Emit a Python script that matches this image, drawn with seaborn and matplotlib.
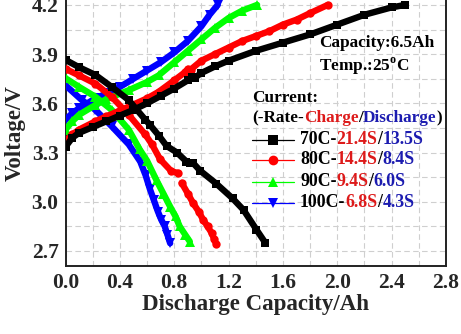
import numpy as np
import pandas as pd
import seaborn as sns
import matplotlib
matplotlib.use("Agg")
import matplotlib.pyplot as plt
from matplotlib.lines import Line2D
from matplotlib.ticker import MultipleLocator
from matplotlib.offsetbox import TextArea, HPacker, DrawingArea, AnchoredOffsetbox

# ---- data ----
# charge curves (voltage rising)
c70_x = [0, 0.05, 0.1, 0.2, 0.3, 0.4, 0.5, 0.6, 0.7, 0.8, 0.9, 0.93, 0.95, 1.0, 1.1, 1.2, 1.4, 1.6, 1.8, 2.0, 2.2, 2.4, 2.5]
c70_v = [3.335, 3.39, 3.42, 3.455, 3.49, 3.525, 3.56, 3.60, 3.645, 3.69, 3.74, 3.76, 3.755, 3.785, 3.825, 3.86, 3.92, 3.97, 4.02, 4.08, 4.14, 4.185, 4.20]
c80_x = [0, 0.05, 0.1, 0.22, 0.3, 0.465, 0.6, 0.685, 0.8, 0.88, 0.9, 0.92, 1.0, 1.1, 1.2, 1.3, 1.4, 1.5, 1.6, 1.7, 1.8, 1.93]
c80_v = [3.37, 3.41, 3.44, 3.49, 3.52, 3.58, 3.63, 3.67, 3.74, 3.79, 3.81, 3.805, 3.86, 3.90, 3.94, 3.98, 4.01, 4.04, 4.08, 4.11, 4.15, 4.20]
c90_x = [0, 0.05, 0.1, 0.22, 0.3, 0.465, 0.6, 0.685, 0.8, 0.9, 1.0, 1.1, 1.2, 1.3, 1.41]
c90_v = [3.44, 3.49, 3.53, 3.59, 3.625, 3.68, 3.73, 3.77, 3.85, 3.92, 3.99, 4.06, 4.12, 4.165, 4.20]
c100_x = [0, 0.05, 0.1, 0.22, 0.3, 0.4, 0.5, 0.6, 0.7, 0.8, 0.9, 1.0, 1.06, 1.12]
c100_v = [3.50, 3.54, 3.57, 3.63, 3.66, 3.70, 3.75, 3.80, 3.85, 3.91, 3.98, 4.07, 4.14, 4.20]

# discharge curves (voltage falling)
d70_x = [0, 0.1, 0.22, 0.34, 0.465, 0.587, 0.62, 0.69, 0.744, 0.82, 0.89, 0.915, 0.94, 0.99, 1.11, 1.23, 1.31, 1.405, 1.47]
d70_v = [3.865, 3.82, 3.773, 3.70, 3.62, 3.50, 3.47, 3.40, 3.34, 3.30, 3.245, 3.235, 3.235, 3.19, 3.11, 3.02, 2.95, 2.83, 2.75]
d80a_x = [0, 0.1, 0.22, 0.34, 0.465, 0.587, 0.636, 0.695, 0.78, 0.83]
d80a_v = [3.81, 3.77, 3.72, 3.64, 3.53, 3.41, 3.35, 3.26, 3.185, 3.175]
d80b_x = [0.855, 0.9, 0.94, 0.98, 1.013, 1.045, 1.075, 1.095, 1.11]
d80b_v = [3.115, 3.05, 2.99, 2.94, 2.89, 2.85, 2.81, 2.77, 2.74]
d90_x = [0, 0.1, 0.22, 0.34, 0.465, 0.545, 0.6, 0.67, 0.72, 0.77, 0.81, 0.84, 0.88, 0.915]
d90_v = [3.753, 3.70, 3.64, 3.56, 3.44, 3.32, 3.25, 3.13, 3.05, 2.97, 2.91, 2.85, 2.80, 2.757]
d100_x = [0, 0.12, 0.22, 0.34, 0.465, 0.55, 0.59, 0.62, 0.65, 0.68, 0.705, 0.73, 0.75, 0.77]
d100_v = [3.71, 3.62, 3.56, 3.46, 3.35, 3.245, 3.16, 3.08, 3.01, 2.94, 2.89, 2.85, 2.80, 2.747]

rates = ["70C", "80C", "90C", "100C"]
charge_t = ["21.4S", "14.4S", "9.4S", "6.8S"]
discharge_t = ["13.5S", "8.4S", "6.0S", "4.3S"]
colors = ["#000000", "#ff0000", "#00ff00", "#0000ff"]
markers = ["s", "o", "^", "v"]
msizes = [5.5, 6.0, 6.5, 6.5]

xticks = [0.0, 0.4, 0.8, 1.2, 1.6, 2.0, 2.4, 2.8]
yticks = [2.7, 3.0, 3.3, 3.6, 3.9, 4.2]

sns.set_style("white")
plt.rcParams["font.family"] = ["Liberation Serif", "DejaVu Serif"]
plt.rcParams["font.weight"] = "bold"
plt.rcParams["axes.labelweight"] = "bold"

W, H = 461, 334
fig = plt.figure(figsize=(W / 100, H / 100), dpi=100)
ax_l, ax_r, ax_b = 65.5, 446.0, 265.7
ax = fig.add_axes([ax_l / W, (H - ax_b) / H, (ax_r - ax_l) / W, ax_b / H])

series = [
    (c70_x, c70_v, 0), (c80_x, c80_v, 1), (c90_x, c90_v, 2), (c100_x, c100_v, 3),
    (d70_x, d70_v, 0), (d80a_x, d80a_v, 1), (d80b_x, d80b_v, 1), (d90_x, d90_v, 2), (d100_x, d100_v, 3),
]
for xs, vs, i in series:
    sns.lineplot(x=xs, y=vs, ax=ax, sort=False, color=colors[i], lw=4.6,
                 marker=markers[i], markersize=msizes[i], markeredgewidth=0, zorder=3 + (3 - i) * 0.1)

ax.set_xlim(0, 2.8)
ax.set_ylim(2.61, 4.23)
ax.set_xticks(xticks)
ax.set_yticks(yticks)
ax.set_xticklabels([f"{t:.1f}" for t in xticks])
ax.set_yticklabels([f"{t:.1f}" for t in yticks])
ax.xaxis.set_minor_locator(MultipleLocator(0.2))
ax.yaxis.set_minor_locator(MultipleLocator(0.15))
ax.tick_params(axis="both", which="major", direction="in", length=4, width=1.2,
               labelsize=15.5, pad=5, top=False, right=False)
ax.tick_params(axis="both", which="minor", direction="in", length=2.5, width=1, top=False, right=False)
for lab in ax.get_xticklabels() + ax.get_yticklabels():
    lab.set_fontweight("bold")
ax.grid(True, which="both", color="#cfcfcf", linestyle=(0, (5, 3)), linewidth=0.8)
ax.set_axisbelow(True)
for s in ["left", "bottom", "right"]:
    ax.spines[s].set_color("#222222")
    ax.spines[s].set_linewidth(1.4)
ax.spines["top"].set_visible(False)

ax.set_xlabel("Discharge Capacity/Ah", fontsize=16.5, fontweight="bold", labelpad=1)
ax.set_ylabel("Voltage/V", fontsize=16.5, fontweight="bold", labelpad=4)

RED_T = "#dd1a1a"
BLUE_T = "#1c1cb0"
FS = 12.8


def place(box, x_px, y_px, loc="center left"):
    ab = AnchoredOffsetbox(loc=loc, child=box, frameon=False, pad=0, borderpad=0,
                           bbox_to_anchor=(x_px / W, 1 - y_px / H), bbox_transform=fig.transFigure)
    fig.add_artist(ab)


def txt(s, c="black", fs=FS):
    return TextArea(s, textprops=dict(color=c, fontsize=fs, fontweight="bold",
                                      family=["Liberation Serif", "DejaVu Serif"]))


place(txt("Capacity:6.5Ah", fs=12.4), 319, 43)
place(txt("Temp.:25$^\\mathregular{o}$C", fs=12.4), 319, 66)
place(txt("Current:", fs=12.4), 252, 98)
place(HPacker(children=[txt("(-Rate-", fs=12.4), txt("Charge", RED_T, 12.4), txt("/", fs=12.4),
                        txt("Discharge", BLUE_T, 12.4), txt(")", fs=12.4)],
              align="baseline", pad=0, sep=0), 252, 118)

row_y = [140, 160, 181.5, 202.5]
for i in range(4):
    da = DrawingArea(30, 10, 0, 0)
    da.add_artist(Line2D([0, 30], [5, 5], color=colors[i], lw=0.9))
    da.add_artist(Line2D([15], [5], color=colors[i], marker=markers[i], markersize=7, markeredgewidth=0))
    texts = HPacker(children=[txt(rates[i] + "-"), txt(charge_t[i], RED_T), txt("/"),
                              txt(discharge_t[i], BLUE_T)], align="baseline", pad=0, sep=0)
    place(da, 252, row_y[i])
    place(texts, 300, row_y[i])

fig.savefig("out.png", dpi=100)
